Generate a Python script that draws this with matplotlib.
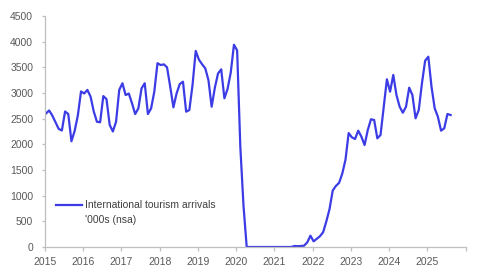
import matplotlib
matplotlib.use("Agg")
import matplotlib.pyplot as plt
import numpy as np

start_year = 2015
arrivals = [
    # 2015
    2600, 2660, 2560, 2430, 2300, 2270, 2640, 2590, 2060, 2260, 2560, 3030,
    # 2016
    2990, 3060, 2930, 2640, 2440, 2430, 2940, 2880, 2380, 2250, 2440, 3060,
    # 2017
    3190, 2960, 2990, 2800, 2590, 2700, 3090, 3190, 2590, 2700, 3025, 3580,
    # 2018
    3545, 3558, 3500, 3123, 2721, 2993, 3175, 3220, 2636, 2669, 3156, 3820,
    # 2019
    3650, 3560, 3480, 3250, 2733, 3100, 3380, 3461, 2896, 3080, 3400, 3940,
    # 2020
    3830, 1950, 800, 0, 0, 0, 0, 0, 0, 0, 0, 0,
    # 2021
    0, 0, 0, 0, 0, 0, 20, 15, 20, 25, 90, 220,
    # 2022
    110, 160, 210, 290, 500, 740, 1100, 1190, 1250, 1430, 1700, 2220,
    # 2023
    2137, 2104, 2266, 2149, 1987, 2279, 2488, 2474, 2117, 2182, 2733, 3267,
    # 2024
    3025, 3351, 2961, 2733, 2616, 2733, 3104, 2961, 2507, 2669, 3188, 3629,
    # 2025
    3707, 3123, 2702, 2538, 2266, 2312, 2591, 2571,
]
series_label = "International tourism arrivals"
series_label2 = "'000s (nsa)"
year_ticks = list(range(2015, 2027))
year_labels = [str(y) for y in range(2015, 2026)] + [""]
y_ticks = list(range(0, 4501, 500))

x = start_year + (np.arange(len(arrivals)) + 0.3) / 12.0

plt.rcParams['font.family'] = ['Liberation Sans', 'DejaVu Sans']
fig = plt.figure(figsize=(4.8, 2.78), dpi=100)
ax = fig.add_axes([45/480, 1-247/278, 420.6/480, 231/278])

line_color = '#3c3ce6'
ax.plot(x, arrivals, color=line_color, lw=1.6, label=series_label,
        solid_joinstyle='round')

ax.set_xlim(2015, 2026)
ax.set_ylim(0, 4500)
ax.set_xticks(year_ticks)
ax.set_xticklabels(year_labels)
ax.set_yticks(y_ticks)

for s in ['top', 'right']:
    ax.spines[s].set_visible(False)
for s in ['left', 'bottom']:
    ax.spines[s].set_color('#bfbfbf')
    ax.spines[s].set_linewidth(0.9)

ax.tick_params(axis='both', colors='#bfbfbf', labelcolor='#595959',
               labelsize=7.5, width=0.9)
ax.tick_params(axis='y', length=2.5, pad=6)
ax.tick_params(axis='x', length=3, pad=4)

leg = ax.legend(loc='upper left', bbox_to_anchor=(0.026, 0.202),
                frameon=False, fontsize=7.5, handlelength=2.5,
                handletextpad=0.3, borderpad=0, borderaxespad=0)
for t in leg.get_texts():
    t.set_color('#404040')
ax.text(0.095, 0.137, series_label2, transform=ax.transAxes,
        fontsize=7.5, color='#404040', va='top', ha='left')

fig.savefig('out.png', dpi=100)
